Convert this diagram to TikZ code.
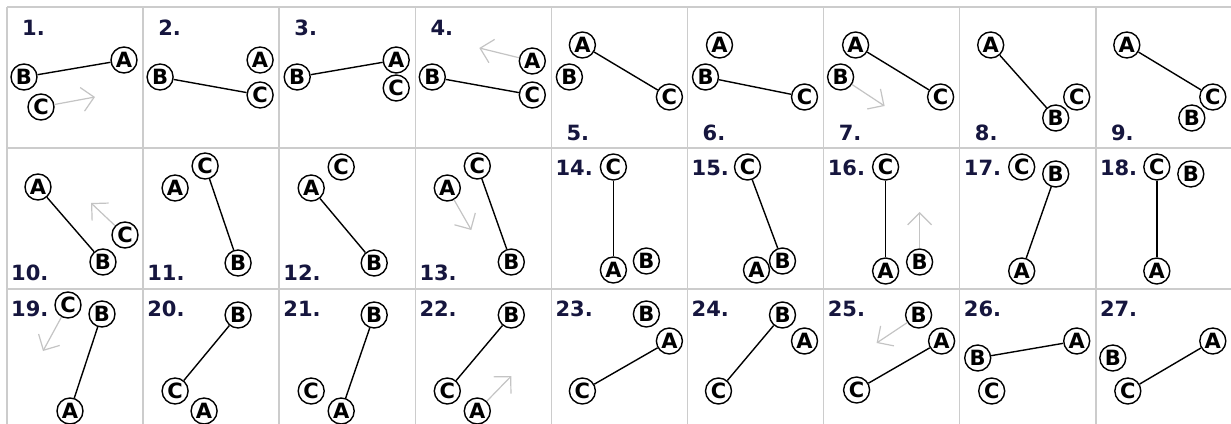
\documentclass[tikz,border=0pt]{standalone}
\usepackage{fontspec}
\setmainfont{DejaVu Sans}
\usetikzlibrary{arrows.meta}
\definecolor{gridgray}{RGB}{204,204,204}
\definecolor{movegray}{RGB}{196,196,196}
\definecolor{numblue}{RGB}{22,22,62}
\begin{document}
\begin{tikzpicture}[x=1pt,y=-1pt,
  ball/.style={circle,draw,line width=1.4pt,minimum size=26pt,inner sep=0pt,
    font=\bfseries\fontsize{21}{21}\selectfont},
  link/.style={line width=1.4pt},
  move/.style={draw=movegray,line width=1.2pt,-{Straight Barb[length=12pt,width=24pt]}},
  num/.style={anchor=base west,inner sep=0pt,text=numblue,
    font=\bfseries\fontsize{21}{21}\selectfont},
  gridline/.style={draw=gridgray,line width=1.5pt}]
\useasboundingbox (0,0) rectangle (1231,423);
\fill[white] (0,0) rectangle (1231,423);
\foreach \i in {0,...,9}
  \draw[gridline] (7+136.1*\i,7) -- (7+136.1*\i,431);
\foreach \j in {0,...,3}
  \draw[gridline] (7,7+141*\j) -- (1232,7+141*\j);

\begin{scope}[shift={(7,7)}]
\node[num] (n1) at (15,28) {1.};
\node[ball] (a1) at (117,53) {A};
\node[ball] (b1) at (17,70) {B};
\node[ball] (c1) at (34,100) {C};
\coordinate (m1) at (88,90);
\draw[link] (b1) -- (a1);
\draw[move] (c1) -- (m1);
\end{scope}
\begin{scope}[shift={(143.1,7)}]
\node[num] (n2) at (15,28) {2.};
\node[ball] (a2) at (117,53) {A};
\node[ball] (b2) at (17,70) {B};
\node[ball] (c2) at (117,88) {C};
\draw[link] (b2) -- (c2);
\end{scope}
\begin{scope}[shift={(279.2,7)}]
\node[num] (n3) at (15,28) {3.};
\node[ball] (a3) at (117,53) {A};
\node[ball] (b3) at (18,70) {B};
\node[ball] (c3) at (117,81) {C};
\draw[link] (b3) -- (a3);
\end{scope}
\begin{scope}[shift={(415.3,7)}]
\node[num] (n4) at (15,28) {4.};
\node[ball] (a4) at (117,54) {A};
\node[ball] (b4) at (17,70) {B};
\node[ball] (c4) at (117,88) {C};
\coordinate (m4) at (64,41);
\draw[link] (b4) -- (c4);
\draw[move] (a4) -- (m4);
\end{scope}
\begin{scope}[shift={(551.4,7)}]
\node[num] (n5) at (15,133) {5.};
\node[ball] (a5) at (31,38) {A};
\node[ball] (b5) at (18,70) {B};
\node[ball] (c5) at (118,90) {C};
\draw[link] (a5) -- (c5);
\end{scope}
\begin{scope}[shift={(687.5,7)}]
\node[num] (n6) at (15,133) {6.};
\node[ball] (a6) at (32,38) {A};
\node[ball] (b6) at (18,70) {B};
\node[ball] (c6) at (117,90) {C};
\draw[link] (b6) -- (c6);
\end{scope}
\begin{scope}[shift={(823.6,7)}]
\node[num] (n7) at (15,133) {7.};
\node[ball] (a7) at (32,38) {A};
\node[ball] (b7) at (17,70) {B};
\node[ball] (c7) at (117,90) {C};
\coordinate (m7) at (61,99);
\draw[link] (a7) -- (c7);
\draw[move] (b7) -- (m7);
\end{scope}
\begin{scope}[shift={(959.7,7)}]
\node[num] (n8) at (15,133) {8.};
\node[ball] (a8) at (31,38) {A};
\node[ball] (b8) at (96,111) {B};
\node[ball] (c8) at (117,90) {C};
\draw[link] (a8) -- (b8);
\end{scope}
\begin{scope}[shift={(1095.8,7)}]
\node[num] (n9) at (15,133) {9.};
\node[ball] (a9) at (31,38) {A};
\node[ball] (b9) at (96,111) {B};
\node[ball] (c9) at (117,90) {C};
\draw[link] (a9) -- (c9);
\end{scope}

\begin{scope}[shift={(7,148)}]
\node[num] (n10) at (4,132) {10.};
\node[ball] (a10) at (31,39) {A};
\node[ball] (b10) at (96,114) {B};
\node[ball] (c10) at (118,87) {C};
\coordinate (m10) at (84,55);
\draw[link] (a10) -- (b10);
\draw[move] (c10) -- (m10);
\end{scope}
\begin{scope}[shift={(143.1,148)}]
\node[num] (n11) at (4,132) {11.};
\node[ball] (a11) at (32,40) {A};
\node[ball] (b11) at (95,115) {B};
\node[ball] (c11) at (62,18) {C};
\draw[link] (c11) -- (b11);
\end{scope}
\begin{scope}[shift={(279.2,148)}]
\node[num] (n12) at (4,132) {12.};
\node[ball] (a12) at (32,40) {A};
\node[ball] (b12) at (95,115) {B};
\node[ball] (c12) at (62,19) {C};
\draw[link] (a12) -- (b12);
\end{scope}
\begin{scope}[shift={(415.3,148)}]
\node[num] (n13) at (4,132) {13.};
\node[ball] (a13) at (32,40) {A};
\node[ball] (b13) at (96,114) {B};
\node[ball] (c13) at (62,18) {C};
\coordinate (m13) at (56,82);
\draw[link] (c13) -- (b13);
\draw[move] (a13) -- (m13);
\end{scope}
\begin{scope}[shift={(551.4,148)}]
\node[num] (n14) at (4,27) {14.};
\node[ball] (a14) at (62,122) {A};
\node[ball] (b14) at (95,113) {B};
\node[ball] (c14) at (62,19) {C};
\draw[link] (c14) -- (a14);
\end{scope}
\begin{scope}[shift={(687.5,148)}]
\node[num] (n15) at (4,27) {15.};
\node[ball] (a15) at (69,122) {A};
\node[ball] (b15) at (95,113) {B};
\node[ball] (c15) at (60,19) {C};
\draw[link] (c15) -- (b15);
\end{scope}
\begin{scope}[shift={(823.6,148)}]
\node[num] (n16) at (4,27) {16.};
\node[ball] (a16) at (62,123) {A};
\node[ball] (b16) at (96,114) {B};
\node[ball] (c16) at (62,19) {C};
\coordinate (m16) at (96,64);
\draw[link] (c16) -- (a16);
\draw[move] (b16) -- (m16);
\end{scope}
\begin{scope}[shift={(959.7,148)}]
\node[num] (n17) at (4,27) {17.};
\node[ball] (a17) at (62,123) {A};
\node[ball] (b17) at (96,26) {B};
\node[ball] (c17) at (62,19) {C};
\draw[link] (b17) -- (a17);
\end{scope}
\begin{scope}[shift={(1095.8,148)}]
\node[num] (n18) at (4,27) {18.};
\node[ball] (a18) at (61,123) {A};
\node[ball] (b18) at (95,26) {B};
\node[ball] (c18) at (61,19) {C};
\draw[link] (c18) -- (a18);
\end{scope}

\begin{scope}[shift={(7,289)}]
\node[num] (n19) at (4,27) {19.};
\node[ball] (a19) at (63,122) {A};
\node[ball] (b19) at (95,25) {B};
\node[ball] (c19) at (61,16) {C};
\coordinate (m19) at (36,62);
\draw[link] (b19) -- (a19);
\draw[move] (c19) -- (m19);
\end{scope}
\begin{scope}[shift={(143.1,289)}]
\node[num] (n20) at (4,27) {20.};
\node[ball] (a20) at (61,122) {A};
\node[ball] (b20) at (95,26) {B};
\node[ball] (c20) at (32,102) {C};
\draw[link] (b20) -- (c20);
\end{scope}
\begin{scope}[shift={(279.2,289)}]
\node[num] (n21) at (4,27) {21.};
\node[ball] (a21) at (62,122) {A};
\node[ball] (b21) at (95,26) {B};
\node[ball] (c21) at (32,102) {C};
\draw[link] (b21) -- (a21);
\end{scope}
\begin{scope}[shift={(415.3,289)}]
\node[num] (n22) at (4,27) {22.};
\node[ball] (a22) at (62,122) {A};
\node[ball] (b22) at (96,26) {B};
\node[ball] (c22) at (32,102) {C};
\coordinate (m22) at (96,87);
\draw[link] (b22) -- (c22);
\draw[move] (a22) -- (m22);
\end{scope}
\begin{scope}[shift={(551.4,289)}]
\node[num] (n23) at (4,27) {23.};
\node[ball] (a23) at (118,52) {A};
\node[ball] (b23) at (95,25) {B};
\node[ball] (c23) at (31,102) {C};
\draw[link] (a23) -- (c23);
\end{scope}
\begin{scope}[shift={(687.5,289)}]
\node[num] (n24) at (4,27) {24.};
\node[ball] (a24) at (117,52) {A};
\node[ball] (b24) at (95,26) {B};
\node[ball] (c24) at (31,102) {C};
\draw[link] (b24) -- (c24);
\end{scope}
\begin{scope}[shift={(823.6,289)}]
\node[num] (n25) at (4,27) {25.};
\node[ball] (a25) at (118,52) {A};
\node[ball] (b25) at (95,26) {B};
\node[ball] (c25) at (33,101) {C};
\coordinate (m25) at (53,54);
\draw[link] (a25) -- (c25);
\draw[move] (b25) -- (m25);
\end{scope}
\begin{scope}[shift={(959.7,289)}]
\node[num] (n26) at (4,27) {26.};
\node[ball] (a26) at (117,52) {A};
\node[ball] (b26) at (18,69) {B};
\node[ball] (c26) at (32,102) {C};
\draw[link] (b26) -- (a26);
\end{scope}
\begin{scope}[shift={(1095.8,289)}]
\node[num] (n27) at (4,27) {27.};
\node[ball] (a27) at (117,52) {A};
\node[ball] (b27) at (17,69) {B};
\node[ball] (c27) at (32,102) {C};
\draw[link] (c27) -- (a27);
\end{scope}
\end{tikzpicture}
\end{document}
